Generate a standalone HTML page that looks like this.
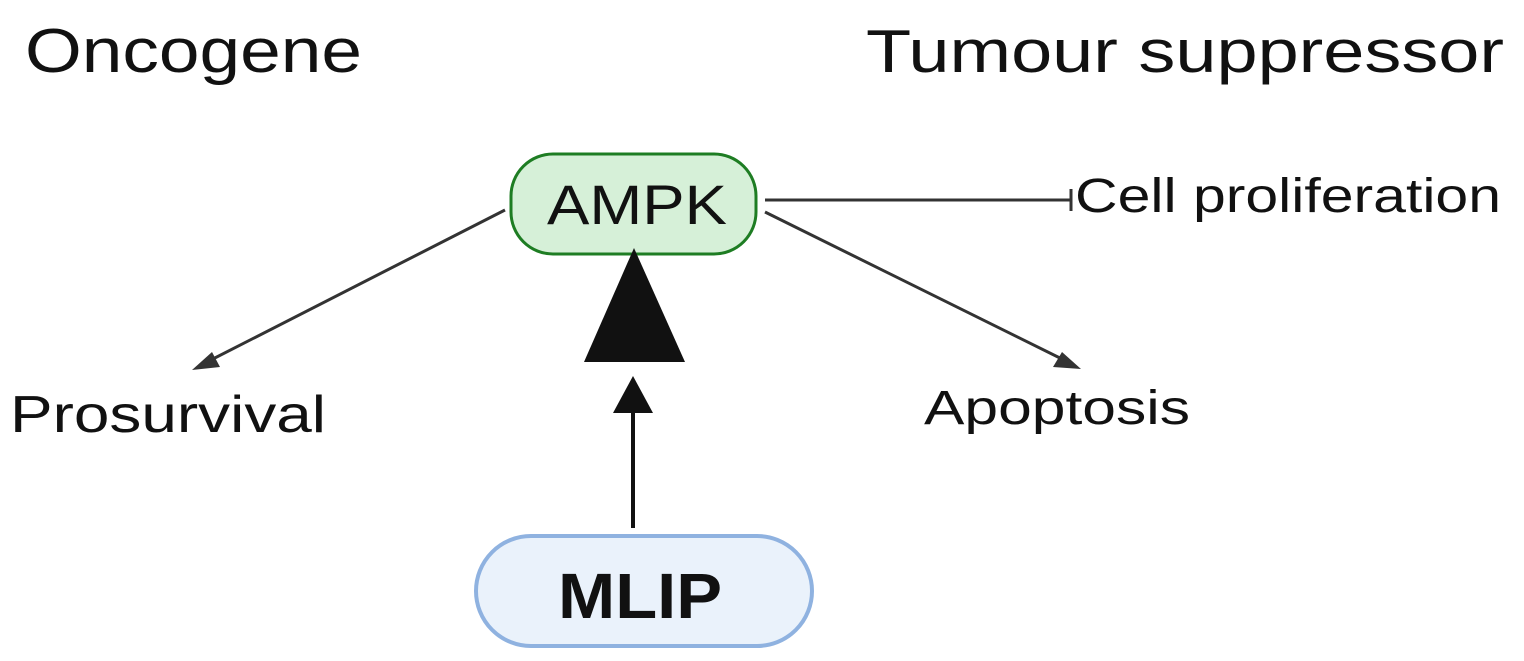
<!DOCTYPE html>
<html><head><style>
html,body{margin:0;padding:0;background:#fff;}
svg{display:block;}
text{font-family:"Liberation Sans",Arial,sans-serif;fill:#111;}
</style></head><body>
<svg width="1524" height="661" viewBox="0 0 1524 661">
<text x="25" y="72" font-size="62" textLength="337" lengthAdjust="spacingAndGlyphs">Oncogene</text>
<text x="866" y="72" font-size="60" textLength="638" lengthAdjust="spacingAndGlyphs">Tumour suppressor</text>
<!-- connectors -->
<line x1="505" y1="210" x2="205" y2="363" stroke="#333" stroke-width="3"/>
<polygon points="192,370 212,352 220,367" fill="#333"/>
<line x1="765" y1="212" x2="1068" y2="362" stroke="#333" stroke-width="3"/>
<polygon points="1081,369 1053,367 1062,352" fill="#333"/>
<line x1="765" y1="200" x2="1070" y2="200" stroke="#333" stroke-width="3"/>
<line x1="1071" y1="189" x2="1071" y2="211" stroke="#333" stroke-width="3"/>
<!-- AMPK -->
<rect x="511" y="154" width="245" height="100" rx="42" fill="#d6f0d8" stroke="#1e7d23" stroke-width="3"/>
<text x="547" y="224" font-size="56" textLength="180" lengthAdjust="spacingAndGlyphs">AMPK</text>
<polygon points="634,248 584,362 685,362" fill="#111"/>
<!-- MLIP arrow -->
<line x1="633" y1="528" x2="633" y2="408" stroke="#111" stroke-width="4"/>
<polygon points="633,376 613,413 653,413" fill="#111"/>
<rect x="476" y="536" width="336" height="110" rx="55" fill="#eaf2fb" stroke="#8fb2e0" stroke-width="4"/>
<text x="558" y="618" font-size="64" font-weight="bold" textLength="164" lengthAdjust="spacingAndGlyphs">MLIP</text>
<text x="1075" y="212" font-size="48" textLength="426" lengthAdjust="spacingAndGlyphs">Cell proliferation</text>
<text x="10" y="432" font-size="52" textLength="316" lengthAdjust="spacingAndGlyphs">Prosurvival</text>
<text x="924" y="424" font-size="48" textLength="266" lengthAdjust="spacingAndGlyphs">Apoptosis</text>
</svg>
</body></html>
